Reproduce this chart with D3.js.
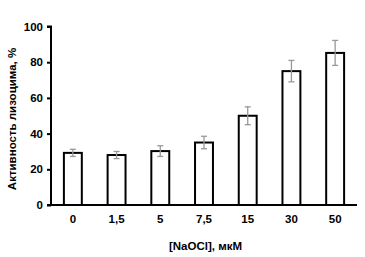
<!DOCTYPE html>
<html>
<head>
<meta charset="utf-8">
<script src="https://cdn.jsdelivr.net/npm/d3@7"></script>
<style>
  body { margin: 0; background: #fff; }
  text { font-family: "Liberation Sans", Arial, sans-serif; font-weight: bold; }
</style>
</head>
<body>
<div id="chart"></div>
<script>
var categories = ["0", "1,5", "5", "7,5", "15", "30", "50"];
var activity = [29.2, 28, 30.2, 35, 50, 75, 85.2];
var errors = [2, 2, 3, 3.5, 5, 6, 7];
var yTicks = [0, 20, 40, 60, 80, 100];

var svgWidth = 365;
var svgHeight = 257;

var margin = { top: 26.5, right: 8, bottom: 52, left: 51 };
var width = svgWidth - margin.left - margin.right;
var height = svgHeight - margin.top - margin.bottom;

var svg = d3.select("#chart")
  .append("svg")
  .attr("width", svgWidth)
  .attr("height", svgHeight);

var chartGroup = svg.append("g")
  .attr("transform", `translate(${margin.left}, ${margin.top})`);

var xScale = d3.scaleBand()
  .domain(categories)
  .range([0, width])
  .paddingInner(0.59)
  .paddingOuter(0.295);

var yScale = d3.scaleLinear()
  .domain([0, 100])
  .range([height, 0]);

// bars
chartGroup.selectAll("rect.bar")
  .data(activity)
  .enter()
  .append("rect")
  .attr("class", "bar")
  .attr("x", (d, i) => xScale(categories[i]))
  .attr("y", d => yScale(d))
  .attr("width", xScale.bandwidth())
  .attr("height", d => height - yScale(d))
  .attr("fill", "#fff")
  .attr("stroke", "#000")
  .attr("stroke-width", 2);

// error bars
var errGroup = chartGroup.append("g")
  .attr("stroke", "#999")
  .attr("stroke-width", 1.3);

activity.forEach(function(d, i) {
  var cx = xScale(categories[i]) + xScale.bandwidth() / 2;
  var top = yScale(d + errors[i]);
  var bottom = yScale(d - errors[i]);
  errGroup.append("line")
    .attr("x1", cx).attr("x2", cx)
    .attr("y1", top).attr("y2", bottom);
  errGroup.append("line")
    .attr("x1", cx - 3).attr("x2", cx + 3)
    .attr("y1", top).attr("y2", top);
  errGroup.append("line")
    .attr("x1", cx - 3).attr("x2", cx + 3)
    .attr("y1", bottom).attr("y2", bottom);
});

// y axis
var leftAxis = d3.axisLeft(yScale)
  .tickValues(yTicks)
  .tickSize(4)
  .tickPadding(4);

var yAxis = chartGroup.append("g").call(leftAxis);
yAxis.select(".domain").attr("stroke", "#000").attr("stroke-width", 2)
  .attr("d", `M-4,${height}H0V0H-4`);
yAxis.selectAll(".tick line").attr("stroke-width", 2);
yAxis.selectAll("text")
  .attr("font-size", "11.5px")
  .attr("font-family", "Liberation Sans, Arial, sans-serif")
  .attr("font-weight", "bold")
  .attr("fill", "#000");

// x axis
var bottomAxis = d3.axisBottom(xScale)
  .tickSize(0)
  .tickPadding(10);

var xAxis = chartGroup.append("g")
  .attr("transform", `translate(0, ${height})`)
  .call(bottomAxis);
xAxis.select(".domain").attr("stroke", "#000").attr("stroke-width", 2)
  .attr("d", `M0,0H${width}`);
xAxis.selectAll("text")
  .attr("font-size", "11.5px")
  .attr("font-family", "Liberation Sans, Arial, sans-serif")
  .attr("font-weight", "bold")
  .attr("fill", "#000");

// axis titles
svg.append("text")
  .attr("x", 205.5)
  .attr("y", 250)
  .attr("text-anchor", "middle")
  .attr("font-size", "11.5px")
  .text("[NaOCl], мкМ");

svg.append("text")
  .attr("transform", "translate(16, 119) rotate(-90)")
  .attr("text-anchor", "middle")
  .attr("font-size", "11.5px")
  .text("Активность лизоцима, %");
</script>
</body>
</html>
